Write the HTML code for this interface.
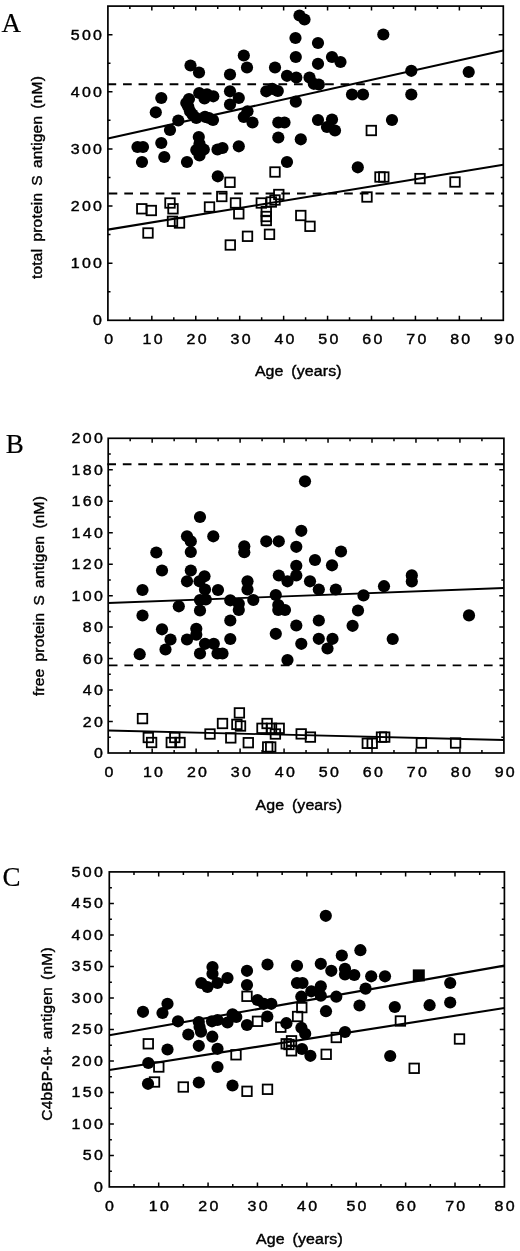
<!DOCTYPE html>
<html><head><meta charset="utf-8"><title>Figure</title>
<style>
html,body{margin:0;padding:0;background:#fff;}
svg{display:block;font-family:"Liberation Sans",sans-serif;fill:#000;filter:blur(0.35px);}
text{stroke:#000;stroke-width:0.4px;}
text.pl{font-family:"Liberation Serif",serif;font-size:27px;stroke-width:0.2px;}
</style></head>
<body>
<svg width="520" height="1251" viewBox="0 0 520 1251">
<rect width="520" height="1251" fill="#fff"/>
<rect x="107.9" y="6.1" width="395.40" height="314.20" fill="none" stroke="#000" stroke-width="1.7"/>
<path d="M129.87 320.3v-3M129.87 6.1v3M151.83 320.3v-4.5M151.83 6.1v4.5M173.80 320.3v-3M173.80 6.1v3M195.77 320.3v-4.5M195.77 6.1v4.5M217.73 320.3v-3M217.73 6.1v3M239.70 320.3v-4.5M239.70 6.1v4.5M261.67 320.3v-3M261.67 6.1v3M283.63 320.3v-4.5M283.63 6.1v4.5M305.60 320.3v-3M305.60 6.1v3M327.57 320.3v-4.5M327.57 6.1v4.5M349.53 320.3v-3M349.53 6.1v3M371.50 320.3v-4.5M371.50 6.1v4.5M393.47 320.3v-3M393.47 6.1v3M415.43 320.3v-4.5M415.43 6.1v4.5M437.40 320.3v-3M437.40 6.1v3M459.37 320.3v-4.5M459.37 6.1v4.5M481.33 320.3v-3M481.33 6.1v3M107.9 263.17h4.6M503.3 263.17h-4.6M107.9 206.05h4.6M503.3 206.05h-4.6M107.9 148.92h4.6M503.3 148.92h-4.6M107.9 91.79h4.6M503.3 91.79h-4.6M107.9 34.66h4.6M503.3 34.66h-4.6M107.9 291.74h2.6M503.3 291.74h-2.6M107.9 234.61h2.6M503.3 234.61h-2.6M107.9 177.48h2.6M503.3 177.48h-2.6M107.9 120.35h2.6M503.3 120.35h-2.6M107.9 63.23h2.6M503.3 63.23h-2.6" stroke="#000" stroke-width="1.5" fill="none"/>
<path d="M107.5 84.3H503.3" stroke="#000" stroke-width="1.9" stroke-dasharray="8.7 6.84" fill="none"/>
<path d="M108.6 193.5H503.3" stroke="#000" stroke-width="1.9" stroke-dasharray="8.7 7.0" fill="none"/>
<path d="M107.9 138.6L503.3 50.5M107.9 229.6L503.3 164.8" stroke="#000" stroke-width="2.1" fill="none"/>
<g fill="#000"><circle cx="190.5" cy="65.5" r="6.1"/><circle cx="199" cy="72.5" r="6.1"/><circle cx="230" cy="74.5" r="6.1"/><circle cx="161.3" cy="98" r="6.1"/><circle cx="230" cy="91.3" r="6.1"/><circle cx="230" cy="104.5" r="6.1"/><circle cx="199.2" cy="93" r="6.1"/><circle cx="189" cy="99" r="6.1"/><circle cx="186.3" cy="103" r="6.1"/><circle cx="204.5" cy="98.5" r="6.1"/><circle cx="213.3" cy="96.3" r="6.1"/><circle cx="155.8" cy="112.3" r="6.1"/><circle cx="178.3" cy="120.5" r="6.1"/><circle cx="170" cy="130" r="6.1"/><circle cx="161.3" cy="143" r="6.1"/><circle cx="137.5" cy="147" r="6.1"/><circle cx="143" cy="147" r="6.1"/><circle cx="142" cy="162" r="6.1"/><circle cx="164.3" cy="157" r="6.1"/><circle cx="187" cy="162" r="6.1"/><circle cx="190" cy="111.3" r="6.1"/><circle cx="196.3" cy="118" r="6.1"/><circle cx="207" cy="94.3" r="6.1"/><circle cx="188.3" cy="106.8" r="6.1"/><circle cx="192.5" cy="114.5" r="6.1"/><circle cx="209" cy="118" r="6.1"/><circle cx="272.3" cy="88.8" r="6.1"/><circle cx="205" cy="116.8" r="6.1"/><circle cx="213" cy="120" r="6.1"/><circle cx="198.8" cy="137" r="6.1"/><circle cx="199.5" cy="143.8" r="6.1"/><circle cx="196.3" cy="150" r="6.1"/><circle cx="203.8" cy="149.5" r="6.1"/><circle cx="199.5" cy="155.5" r="6.1"/><circle cx="217.5" cy="149.5" r="6.1"/><circle cx="222.5" cy="148" r="6.1"/><circle cx="217.8" cy="176.3" r="6.1"/><circle cx="243.8" cy="55.5" r="6.1"/><circle cx="247" cy="67.5" r="6.1"/><circle cx="238.8" cy="98" r="6.1"/><circle cx="275" cy="67.5" r="6.1"/><circle cx="266.3" cy="91.3" r="6.1"/><circle cx="277.8" cy="91" r="6.1"/><circle cx="287" cy="75.8" r="6.1"/><circle cx="296.3" cy="77.5" r="6.1"/><circle cx="295.8" cy="57" r="6.1"/><circle cx="295.5" cy="38" r="6.1"/><circle cx="299.5" cy="15.5" r="6.1"/><circle cx="304.5" cy="19.5" r="6.1"/><circle cx="318" cy="43" r="6.1"/><circle cx="318" cy="63.8" r="6.1"/><circle cx="309.5" cy="77.5" r="6.1"/><circle cx="313.8" cy="83.8" r="6.1"/><circle cx="318.8" cy="84.5" r="6.1"/><circle cx="332" cy="57" r="6.1"/><circle cx="340.5" cy="62" r="6.1"/><circle cx="295.8" cy="101.7" r="6.1"/><circle cx="352" cy="94.5" r="6.1"/><circle cx="247.5" cy="111.3" r="6.1"/><circle cx="243.8" cy="117" r="6.1"/><circle cx="252.5" cy="122.5" r="6.1"/><circle cx="278.3" cy="122.5" r="6.1"/><circle cx="284.5" cy="122.5" r="6.1"/><circle cx="278.3" cy="137.5" r="6.1"/><circle cx="300.8" cy="139.3" r="6.1"/><circle cx="238.8" cy="146.3" r="6.1"/><circle cx="287" cy="162" r="6.1"/><circle cx="318" cy="120" r="6.1"/><circle cx="332" cy="119.5" r="6.1"/><circle cx="327" cy="127" r="6.1"/><circle cx="335" cy="130.5" r="6.1"/><circle cx="357.8" cy="167.3" r="6.1"/><circle cx="383.3" cy="34.5" r="6.1"/><circle cx="411.3" cy="70.8" r="6.1"/><circle cx="411.3" cy="94.5" r="6.1"/><circle cx="363" cy="94.5" r="6.1"/><circle cx="468.7" cy="72" r="6.1"/><circle cx="392" cy="120" r="6.1"/></g>
<g fill="none" stroke="#000" stroke-width="1.8"><rect x="137.05" y="204.05" width="9.5" height="9.5"/><rect x="146.55" y="205.75" width="9.5" height="9.5"/><rect x="143.25" y="228.25" width="9.5" height="9.5"/><rect x="165.25" y="198.25" width="9.5" height="9.5"/><rect x="168.25" y="204.05" width="9.5" height="9.5"/><rect x="167.75" y="216.55" width="9.5" height="9.5"/><rect x="174.75" y="218.25" width="9.5" height="9.5"/><rect x="204.75" y="202.25" width="9.5" height="9.5"/><rect x="217.05" y="191.75" width="9.5" height="9.5"/><rect x="225.25" y="177.55" width="9.5" height="9.5"/><rect x="225.55" y="240.25" width="9.5" height="9.5"/><rect x="230.75" y="198.25" width="9.5" height="9.5"/><rect x="234.05" y="209.05" width="9.5" height="9.5"/><rect x="256.55" y="198.25" width="9.5" height="9.5"/><rect x="266.55" y="197.25" width="9.5" height="9.5"/><rect x="270.25" y="195.25" width="9.5" height="9.5"/><rect x="274.05" y="189.75" width="9.5" height="9.5"/><rect x="261.55" y="206.75" width="9.5" height="9.5"/><rect x="261.55" y="211.75" width="9.5" height="9.5"/><rect x="261.55" y="215.75" width="9.5" height="9.5"/><rect x="264.75" y="229.55" width="9.5" height="9.5"/><rect x="242.75" y="231.55" width="9.5" height="9.5"/><rect x="296.05" y="210.75" width="9.5" height="9.5"/><rect x="305.25" y="221.55" width="9.5" height="9.5"/><rect x="270.25" y="167.25" width="9.5" height="9.5"/><rect x="366.55" y="125.75" width="9.5" height="9.5"/><rect x="375.25" y="172.25" width="9.5" height="9.5"/><rect x="379.05" y="172.25" width="9.5" height="9.5"/><rect x="415.25" y="173.85" width="9.5" height="9.5"/><rect x="450.25" y="177.25" width="9.5" height="9.5"/><rect x="362.25" y="192.25" width="9.5" height="9.5"/></g>
<text transform="translate(104.30 325.3) scale(1.15 1)" text-anchor="end" font-size="13.9" letter-spacing="2.0" >0</text>
<text transform="translate(104.30 268.1727272727273) scale(1.15 1)" text-anchor="end" font-size="13.9" letter-spacing="2.0" >100</text>
<text transform="translate(104.30 211.04545454545456) scale(1.15 1)" text-anchor="end" font-size="13.9" letter-spacing="2.0" >200</text>
<text transform="translate(104.30 153.91818181818184) scale(1.15 1)" text-anchor="end" font-size="13.9" letter-spacing="2.0" >300</text>
<text transform="translate(104.30 96.79090909090911) scale(1.15 1)" text-anchor="end" font-size="13.9" letter-spacing="2.0" >400</text>
<text transform="translate(104.30 39.663636363636385) scale(1.15 1)" text-anchor="end" font-size="13.9" letter-spacing="2.0" >500</text>
<text transform="translate(109.85 344.1) scale(1.15 1)" text-anchor="middle" font-size="13.9" letter-spacing="2.0" >0</text>
<text transform="translate(153.78 344.1) scale(1.15 1)" text-anchor="middle" font-size="13.9" letter-spacing="2.0" >10</text>
<text transform="translate(197.72 344.1) scale(1.15 1)" text-anchor="middle" font-size="13.9" letter-spacing="2.0" >20</text>
<text transform="translate(241.65 344.1) scale(1.15 1)" text-anchor="middle" font-size="13.9" letter-spacing="2.0" >30</text>
<text transform="translate(285.58 344.1) scale(1.15 1)" text-anchor="middle" font-size="13.9" letter-spacing="2.0" >40</text>
<text transform="translate(329.52 344.1) scale(1.15 1)" text-anchor="middle" font-size="13.9" letter-spacing="2.0" >50</text>
<text transform="translate(373.45 344.1) scale(1.15 1)" text-anchor="middle" font-size="13.9" letter-spacing="2.0" >60</text>
<text transform="translate(417.38 344.1) scale(1.15 1)" text-anchor="middle" font-size="13.9" letter-spacing="2.0" >70</text>
<text transform="translate(461.32 344.1) scale(1.15 1)" text-anchor="middle" font-size="13.9" letter-spacing="2.0" >80</text>
<text transform="translate(505.25 344.1) scale(1.15 1)" text-anchor="middle" font-size="13.9" letter-spacing="2.0" >90</text>
<text transform="translate(298.25 376.2) scale(1.07 1)" text-anchor="middle" font-size="14.9" letter-spacing="0.1" word-spacing="3">Age (years)</text>
<text transform="translate(41.8 177.5) rotate(-90) scale(1.04 1)" text-anchor="middle" font-size="14.9" letter-spacing="0.2" word-spacing="2.5">total protein S antigen (nM)</text>
<text class="pl" x="1.4" y="31.9">A</text>
<rect x="108.2" y="438.3" width="395.70" height="314.70" fill="none" stroke="#000" stroke-width="1.7"/>
<path d="M130.18 753.0v-3M130.18 438.3v3M152.17 753.0v-4.5M152.17 438.3v4.5M174.15 753.0v-3M174.15 438.3v3M196.13 753.0v-4.5M196.13 438.3v4.5M218.12 753.0v-3M218.12 438.3v3M240.10 753.0v-4.5M240.10 438.3v4.5M262.08 753.0v-3M262.08 438.3v3M284.07 753.0v-4.5M284.07 438.3v4.5M306.05 753.0v-3M306.05 438.3v3M328.03 753.0v-4.5M328.03 438.3v4.5M350.02 753.0v-3M350.02 438.3v3M372.00 753.0v-4.5M372.00 438.3v4.5M393.98 753.0v-3M393.98 438.3v3M415.97 753.0v-4.5M415.97 438.3v4.5M437.95 753.0v-3M437.95 438.3v3M459.93 753.0v-4.5M459.93 438.3v4.5M481.92 753.0v-3M481.92 438.3v3M108.2 721.53h4.6M503.9 721.53h-4.6M108.2 690.06h4.6M503.9 690.06h-4.6M108.2 658.59h4.6M503.9 658.59h-4.6M108.2 627.12h4.6M503.9 627.12h-4.6M108.2 595.65h4.6M503.9 595.65h-4.6M108.2 564.18h4.6M503.9 564.18h-4.6M108.2 532.71h4.6M503.9 532.71h-4.6M108.2 501.24h4.6M503.9 501.24h-4.6M108.2 469.77h4.6M503.9 469.77h-4.6M108.2 737.26h2.6M503.9 737.26h-2.6M108.2 705.79h2.6M503.9 705.79h-2.6M108.2 674.33h2.6M503.9 674.33h-2.6M108.2 642.86h2.6M503.9 642.86h-2.6M108.2 611.38h2.6M503.9 611.38h-2.6M108.2 579.91h2.6M503.9 579.91h-2.6M108.2 548.45h2.6M503.9 548.45h-2.6M108.2 516.98h2.6M503.9 516.98h-2.6M108.2 485.50h2.6M503.9 485.50h-2.6M108.2 454.04h2.6M503.9 454.04h-2.6" stroke="#000" stroke-width="1.5" fill="none"/>
<path d="M107.3 464.2H503.9" stroke="#000" stroke-width="1.9" stroke-dasharray="8.7 6.8" fill="none"/>
<path d="M108.8 665.4H503.9" stroke="#000" stroke-width="1.9" stroke-dasharray="8.7 6.93" fill="none"/>
<path d="M108.2 603L503.9 588M108.2 730.5L503.9 740" stroke="#000" stroke-width="1.8" fill="none"/>
<g fill="#000"><circle cx="200" cy="517" r="6.1"/><circle cx="213.3" cy="536.3" r="6.1"/><circle cx="187" cy="536.3" r="6.1"/><circle cx="190.8" cy="541.3" r="6.1"/><circle cx="190.8" cy="552" r="6.1"/><circle cx="156.3" cy="552.5" r="6.1"/><circle cx="162" cy="570.5" r="6.1"/><circle cx="190.8" cy="570.5" r="6.1"/><circle cx="187" cy="581.3" r="6.1"/><circle cx="204.5" cy="576.3" r="6.1"/><circle cx="199.5" cy="581.3" r="6.1"/><circle cx="205" cy="589.5" r="6.1"/><circle cx="218" cy="590" r="6.1"/><circle cx="142.5" cy="590" r="6.1"/><circle cx="200" cy="600" r="6.1"/><circle cx="205.8" cy="599.5" r="6.1"/><circle cx="230.3" cy="600.3" r="6.1"/><circle cx="178.8" cy="606.3" r="6.1"/><circle cx="200" cy="610.5" r="6.1"/><circle cx="142.5" cy="615.5" r="6.1"/><circle cx="230.3" cy="620.5" r="6.1"/><circle cx="162" cy="629.3" r="6.1"/><circle cx="196.3" cy="628.8" r="6.1"/><circle cx="196.3" cy="634.7" r="6.1"/><circle cx="187" cy="639.5" r="6.1"/><circle cx="170.5" cy="639.5" r="6.1"/><circle cx="230.3" cy="639" r="6.1"/><circle cx="165.5" cy="649.5" r="6.1"/><circle cx="205" cy="643.8" r="6.1"/><circle cx="213.8" cy="643.8" r="6.1"/><circle cx="139.7" cy="654.2" r="6.1"/><circle cx="200" cy="653.5" r="6.1"/><circle cx="217.5" cy="653.5" r="6.1"/><circle cx="222.5" cy="653.5" r="6.1"/><circle cx="305" cy="481.3" r="6.1"/><circle cx="301.3" cy="530.8" r="6.1"/><circle cx="266.3" cy="541.3" r="6.1"/><circle cx="278.8" cy="541.3" r="6.1"/><circle cx="296.3" cy="546.8" r="6.1"/><circle cx="244.3" cy="546.3" r="6.1"/><circle cx="244.3" cy="552.2" r="6.1"/><circle cx="341" cy="551.5" r="6.1"/><circle cx="315" cy="560" r="6.1"/><circle cx="296.3" cy="565.8" r="6.1"/><circle cx="332" cy="565.3" r="6.1"/><circle cx="296.3" cy="575.5" r="6.1"/><circle cx="278.8" cy="575.5" r="6.1"/><circle cx="287.5" cy="581.3" r="6.1"/><circle cx="310" cy="581.3" r="6.1"/><circle cx="318.8" cy="589.5" r="6.1"/><circle cx="335.8" cy="589.5" r="6.1"/><circle cx="247.5" cy="581.3" r="6.1"/><circle cx="247.5" cy="589.5" r="6.1"/><circle cx="253.3" cy="600" r="6.1"/><circle cx="238.8" cy="603.8" r="6.1"/><circle cx="238.8" cy="610" r="6.1"/><circle cx="275.8" cy="595" r="6.1"/><circle cx="278.3" cy="605" r="6.1"/><circle cx="278.3" cy="610" r="6.1"/><circle cx="285" cy="610" r="6.1"/><circle cx="318.8" cy="620.5" r="6.1"/><circle cx="296.3" cy="625.5" r="6.1"/><circle cx="352.6" cy="625.8" r="6.1"/><circle cx="358" cy="610.5" r="6.1"/><circle cx="275.8" cy="633.8" r="6.1"/><circle cx="318.8" cy="638.8" r="6.1"/><circle cx="332.5" cy="638.8" r="6.1"/><circle cx="301.3" cy="643.8" r="6.1"/><circle cx="327.5" cy="648.5" r="6.1"/><circle cx="287.5" cy="660" r="6.1"/><circle cx="384" cy="586.2" r="6.1"/><circle cx="411.8" cy="575.4" r="6.1"/><circle cx="411.8" cy="581.5" r="6.1"/><circle cx="363.5" cy="595.4" r="6.1"/><circle cx="392.7" cy="639" r="6.1"/><circle cx="469" cy="615.4" r="6.1"/></g>
<g fill="none" stroke="#000" stroke-width="1.8"><rect x="137.75" y="713.85" width="9.5" height="9.5"/><rect x="143.55" y="732.75" width="9.5" height="9.5"/><rect x="146.85" y="737.75" width="9.5" height="9.5"/><rect x="166.55" y="737.75" width="9.5" height="9.5"/><rect x="175.25" y="737.75" width="9.5" height="9.5"/><rect x="170.05" y="732.75" width="9.5" height="9.5"/><rect x="205.25" y="729.25" width="9.5" height="9.5"/><rect x="217.75" y="718.75" width="9.5" height="9.5"/><rect x="234.65" y="708.15" width="9.5" height="9.5"/><rect x="232.15" y="719.65" width="9.5" height="9.5"/><rect x="235.75" y="721.25" width="9.5" height="9.5"/><rect x="226.05" y="733.15" width="9.5" height="9.5"/><rect x="243.55" y="737.95" width="9.5" height="9.5"/><rect x="257.25" y="723.55" width="9.5" height="9.5"/><rect x="262.35" y="718.75" width="9.5" height="9.5"/><rect x="266.75" y="723.55" width="9.5" height="9.5"/><rect x="274.45" y="723.55" width="9.5" height="9.5"/><rect x="270.65" y="729.25" width="9.5" height="9.5"/><rect x="262.95" y="742.25" width="9.5" height="9.5"/><rect x="265.95" y="742.25" width="9.5" height="9.5"/><rect x="296.45" y="729.15" width="9.5" height="9.5"/><rect x="305.65" y="732.35" width="9.5" height="9.5"/><rect x="362.55" y="738.55" width="9.5" height="9.5"/><rect x="367.45" y="738.55" width="9.5" height="9.5"/><rect x="376.75" y="732.35" width="9.5" height="9.5"/><rect x="379.95" y="732.35" width="9.5" height="9.5"/><rect x="416.65" y="738.25" width="9.5" height="9.5"/><rect x="450.85" y="738.25" width="9.5" height="9.5"/></g>
<text transform="translate(105.10 758.0) scale(1.15 1)" text-anchor="end" font-size="13.9" letter-spacing="2.0" >0</text>
<text transform="translate(105.10 726.53) scale(1.15 1)" text-anchor="end" font-size="13.9" letter-spacing="2.0" >20</text>
<text transform="translate(105.10 695.06) scale(1.15 1)" text-anchor="end" font-size="13.9" letter-spacing="2.0" >40</text>
<text transform="translate(105.10 663.59) scale(1.15 1)" text-anchor="end" font-size="13.9" letter-spacing="2.0" >60</text>
<text transform="translate(105.10 632.12) scale(1.15 1)" text-anchor="end" font-size="13.9" letter-spacing="2.0" >80</text>
<text transform="translate(105.10 600.65) scale(1.15 1)" text-anchor="end" font-size="13.9" letter-spacing="2.0" >100</text>
<text transform="translate(105.10 569.1800000000001) scale(1.15 1)" text-anchor="end" font-size="13.9" letter-spacing="2.0" >120</text>
<text transform="translate(105.10 537.71) scale(1.15 1)" text-anchor="end" font-size="13.9" letter-spacing="2.0" >140</text>
<text transform="translate(105.10 506.24) scale(1.15 1)" text-anchor="end" font-size="13.9" letter-spacing="2.0" >160</text>
<text transform="translate(105.10 474.77000000000004) scale(1.15 1)" text-anchor="end" font-size="13.9" letter-spacing="2.0" >180</text>
<text transform="translate(105.10 443.3) scale(1.15 1)" text-anchor="end" font-size="13.9" letter-spacing="2.0" >200</text>
<text transform="translate(110.15 776.9) scale(1.15 1)" text-anchor="middle" font-size="13.9" letter-spacing="2.0" >0</text>
<text transform="translate(154.12 776.9) scale(1.15 1)" text-anchor="middle" font-size="13.9" letter-spacing="2.0" >10</text>
<text transform="translate(198.08 776.9) scale(1.15 1)" text-anchor="middle" font-size="13.9" letter-spacing="2.0" >20</text>
<text transform="translate(242.05 776.9) scale(1.15 1)" text-anchor="middle" font-size="13.9" letter-spacing="2.0" >30</text>
<text transform="translate(286.02 776.9) scale(1.15 1)" text-anchor="middle" font-size="13.9" letter-spacing="2.0" >40</text>
<text transform="translate(329.98 776.9) scale(1.15 1)" text-anchor="middle" font-size="13.9" letter-spacing="2.0" >50</text>
<text transform="translate(373.95 776.9) scale(1.15 1)" text-anchor="middle" font-size="13.9" letter-spacing="2.0" >60</text>
<text transform="translate(417.92 776.9) scale(1.15 1)" text-anchor="middle" font-size="13.9" letter-spacing="2.0" >70</text>
<text transform="translate(461.88 776.9) scale(1.15 1)" text-anchor="middle" font-size="13.9" letter-spacing="2.0" >80</text>
<text transform="translate(505.85 776.9) scale(1.15 1)" text-anchor="middle" font-size="13.9" letter-spacing="2.0" >90</text>
<text transform="translate(298.85 810.3) scale(1.07 1)" text-anchor="middle" font-size="14.9" letter-spacing="0.1" word-spacing="3">Age (years)</text>
<text transform="translate(43.5 596) rotate(-90) scale(1.04 1)" text-anchor="middle" font-size="14.9" letter-spacing="0.2" word-spacing="2.5">free protein S antigen (nM)</text>
<text class="pl" x="5.8" y="452.5">B</text>
<rect x="109.3" y="871.9" width="395.10" height="315.00" fill="none" stroke="#000" stroke-width="1.7"/>
<path d="M133.99 1186.9v-3M133.99 871.9v3M158.69 1186.9v-4.5M158.69 871.9v4.5M183.38 1186.9v-3M183.38 871.9v3M208.07 1186.9v-4.5M208.07 871.9v4.5M232.77 1186.9v-3M232.77 871.9v3M257.46 1186.9v-4.5M257.46 871.9v4.5M282.16 1186.9v-3M282.16 871.9v3M306.85 1186.9v-4.5M306.85 871.9v4.5M331.54 1186.9v-3M331.54 871.9v3M356.24 1186.9v-4.5M356.24 871.9v4.5M380.93 1186.9v-3M380.93 871.9v3M405.62 1186.9v-4.5M405.62 871.9v4.5M430.32 1186.9v-3M430.32 871.9v3M455.01 1186.9v-4.5M455.01 871.9v4.5M479.71 1186.9v-3M479.71 871.9v3M109.3 1155.40h4.6M504.4 1155.40h-4.6M109.3 1123.90h4.6M504.4 1123.90h-4.6M109.3 1092.40h4.6M504.4 1092.40h-4.6M109.3 1060.90h4.6M504.4 1060.90h-4.6M109.3 1029.40h4.6M504.4 1029.40h-4.6M109.3 997.90h4.6M504.4 997.90h-4.6M109.3 966.40h4.6M504.4 966.40h-4.6M109.3 934.90h4.6M504.4 934.90h-4.6M109.3 903.40h4.6M504.4 903.40h-4.6M109.3 1171.15h2.6M504.4 1171.15h-2.6M109.3 1139.65h2.6M504.4 1139.65h-2.6M109.3 1108.15h2.6M504.4 1108.15h-2.6M109.3 1076.65h2.6M504.4 1076.65h-2.6M109.3 1045.15h2.6M504.4 1045.15h-2.6M109.3 1013.65h2.6M504.4 1013.65h-2.6M109.3 982.15h2.6M504.4 982.15h-2.6M109.3 950.65h2.6M504.4 950.65h-2.6M109.3 919.15h2.6M504.4 919.15h-2.6M109.3 887.65h2.6M504.4 887.65h-2.6" stroke="#000" stroke-width="1.5" fill="none"/>
<path d="M109.3 1035.2L504.4 965.6M109.3 1070L504.4 1008" stroke="#000" stroke-width="2.1" fill="none"/>
<g fill="#000"><circle cx="212.5" cy="967" r="6.1"/><circle cx="212.5" cy="973.8" r="6.1"/><circle cx="227.5" cy="978" r="6.1"/><circle cx="201.3" cy="983" r="6.1"/><circle cx="207.5" cy="987" r="6.1"/><circle cx="217.5" cy="983" r="6.1"/><circle cx="167.5" cy="1003.8" r="6.1"/><circle cx="162.5" cy="1013" r="6.1"/><circle cx="143" cy="1011.8" r="6.1"/><circle cx="178" cy="1021.3" r="6.1"/><circle cx="198.8" cy="1022" r="6.1"/><circle cx="199.6" cy="1027" r="6.1"/><circle cx="201" cy="1031.7" r="6.1"/><circle cx="188.3" cy="1034.5" r="6.1"/><circle cx="212" cy="1021.3" r="6.1"/><circle cx="217.5" cy="1020" r="6.1"/><circle cx="227.5" cy="1022.5" r="6.1"/><circle cx="232.5" cy="1014.3" r="6.1"/><circle cx="212.3" cy="1036.7" r="6.1"/><circle cx="198.8" cy="1045.8" r="6.1"/><circle cx="167.5" cy="1049.5" r="6.1"/><circle cx="217.5" cy="1048.8" r="6.1"/><circle cx="148.3" cy="1063" r="6.1"/><circle cx="217.5" cy="1067" r="6.1"/><circle cx="198.8" cy="1082.5" r="6.1"/><circle cx="148" cy="1083.8" r="6.1"/><circle cx="232.5" cy="1085.5" r="6.1"/><circle cx="325.8" cy="915.8" r="6.1"/><circle cx="341.8" cy="955.5" r="6.1"/><circle cx="320.8" cy="963.8" r="6.1"/><circle cx="297" cy="965.8" r="6.1"/><circle cx="267.5" cy="964.5" r="6.1"/><circle cx="247" cy="970.8" r="6.1"/><circle cx="331.3" cy="970.8" r="6.1"/><circle cx="345" cy="968.8" r="6.1"/><circle cx="345" cy="974.5" r="6.1"/><circle cx="354.3" cy="975" r="6.1"/><circle cx="247" cy="985" r="6.1"/><circle cx="297" cy="983" r="6.1"/><circle cx="302.5" cy="983" r="6.1"/><circle cx="320.8" cy="986.3" r="6.1"/><circle cx="311.3" cy="991.3" r="6.1"/><circle cx="320.8" cy="995.7" r="6.1"/><circle cx="301.3" cy="996.7" r="6.1"/><circle cx="336.3" cy="996.7" r="6.1"/><circle cx="257.5" cy="1000" r="6.1"/><circle cx="263.8" cy="1003.8" r="6.1"/><circle cx="271.3" cy="1003.8" r="6.1"/><circle cx="326" cy="1011.2" r="6.1"/><circle cx="236.3" cy="1017" r="6.1"/><circle cx="247" cy="1025" r="6.1"/><circle cx="267.3" cy="1016.5" r="6.1"/><circle cx="286.4" cy="1023.2" r="6.1"/><circle cx="301.4" cy="1027.8" r="6.1"/><circle cx="305.2" cy="1033.8" r="6.1"/><circle cx="345" cy="1032" r="6.1"/><circle cx="302" cy="1049" r="6.1"/><circle cx="310.4" cy="1055.8" r="6.1"/><circle cx="359.5" cy="1005.5" r="6.1"/><circle cx="360.4" cy="950.2" r="6.1"/><circle cx="371.2" cy="976.3" r="6.1"/><circle cx="385" cy="976.3" r="6.1"/><circle cx="365.6" cy="988.6" r="6.1"/><circle cx="394.8" cy="1007" r="6.1"/><circle cx="429.6" cy="1005.2" r="6.1"/><circle cx="450.2" cy="983" r="6.1"/><circle cx="450.2" cy="1002.5" r="6.1"/><circle cx="390.2" cy="1056" r="6.1"/></g>
<g fill="none" stroke="#000" stroke-width="1.8"><rect x="143.55" y="1039.05" width="9.5" height="9.5"/><rect x="154.05" y="1062.25" width="9.5" height="9.5"/><rect x="149.75" y="1077.25" width="9.5" height="9.5"/><rect x="178.55" y="1082.25" width="9.5" height="9.5"/><rect x="231.25" y="1050.05" width="9.5" height="9.5"/><rect x="242.25" y="991.55" width="9.5" height="9.5"/><rect x="297.05" y="1002.85" width="9.5" height="9.5"/><rect x="292.85" y="1011.75" width="9.5" height="9.5"/><rect x="252.75" y="1016.55" width="9.5" height="9.5"/><rect x="276.05" y="1022.45" width="9.5" height="9.5"/><rect x="331.55" y="1032.75" width="9.5" height="9.5"/><rect x="281.45" y="1039.05" width="9.5" height="9.5"/><rect x="286.75" y="1036.05" width="9.5" height="9.5"/><rect x="286.75" y="1046.05" width="9.5" height="9.5"/><rect x="284.25" y="1039.75" width="9.5" height="9.5"/><rect x="321.45" y="1049.55" width="9.5" height="9.5"/><rect x="242.25" y="1086.55" width="9.5" height="9.5"/><rect x="262.75" y="1084.55" width="9.5" height="9.5"/><rect x="395.65" y="1016.25" width="9.5" height="9.5"/><rect x="454.75" y="1034.25" width="9.5" height="9.5"/><rect x="409.45" y="1063.55" width="9.5" height="9.5"/></g>
<rect x="412.8" y="969.4" width="12" height="12" fill="#000"/>
<text transform="translate(105.10 1191.9) scale(1.15 1)" text-anchor="end" font-size="13.9" letter-spacing="2.0" >0</text>
<text transform="translate(105.10 1160.4) scale(1.15 1)" text-anchor="end" font-size="13.9" letter-spacing="2.0" >50</text>
<text transform="translate(105.10 1128.9) scale(1.15 1)" text-anchor="end" font-size="13.9" letter-spacing="2.0" >100</text>
<text transform="translate(105.10 1097.4) scale(1.15 1)" text-anchor="end" font-size="13.9" letter-spacing="2.0" >150</text>
<text transform="translate(105.10 1065.9) scale(1.15 1)" text-anchor="end" font-size="13.9" letter-spacing="2.0" >200</text>
<text transform="translate(105.10 1034.4) scale(1.15 1)" text-anchor="end" font-size="13.9" letter-spacing="2.0" >250</text>
<text transform="translate(105.10 1002.9000000000001) scale(1.15 1)" text-anchor="end" font-size="13.9" letter-spacing="2.0" >300</text>
<text transform="translate(105.10 971.4) scale(1.15 1)" text-anchor="end" font-size="13.9" letter-spacing="2.0" >350</text>
<text transform="translate(105.10 939.9) scale(1.15 1)" text-anchor="end" font-size="13.9" letter-spacing="2.0" >400</text>
<text transform="translate(105.10 908.4) scale(1.15 1)" text-anchor="end" font-size="13.9" letter-spacing="2.0" >450</text>
<text transform="translate(105.10 876.9) scale(1.15 1)" text-anchor="end" font-size="13.9" letter-spacing="2.0" >500</text>
<text transform="translate(110.65 1211.0) scale(1.15 1)" text-anchor="middle" font-size="13.9" letter-spacing="2.0" >0</text>
<text transform="translate(160.04 1211.0) scale(1.15 1)" text-anchor="middle" font-size="13.9" letter-spacing="2.0" >10</text>
<text transform="translate(209.42 1211.0) scale(1.15 1)" text-anchor="middle" font-size="13.9" letter-spacing="2.0" >20</text>
<text transform="translate(258.81 1211.0) scale(1.15 1)" text-anchor="middle" font-size="13.9" letter-spacing="2.0" >30</text>
<text transform="translate(308.20 1211.0) scale(1.15 1)" text-anchor="middle" font-size="13.9" letter-spacing="2.0" >40</text>
<text transform="translate(357.59 1211.0) scale(1.15 1)" text-anchor="middle" font-size="13.9" letter-spacing="2.0" >50</text>
<text transform="translate(406.97 1211.0) scale(1.15 1)" text-anchor="middle" font-size="13.9" letter-spacing="2.0" >60</text>
<text transform="translate(456.36 1211.0) scale(1.15 1)" text-anchor="middle" font-size="13.9" letter-spacing="2.0" >70</text>
<text transform="translate(505.75 1211.0) scale(1.15 1)" text-anchor="middle" font-size="13.9" letter-spacing="2.0" >80</text>
<text transform="translate(299.45 1244) scale(1.07 1)" text-anchor="middle" font-size="14.9" letter-spacing="0.1" word-spacing="3">Age (years)</text>
<text transform="translate(51.8 1034) rotate(-90) scale(1.04 1)" text-anchor="middle" font-size="14.9" letter-spacing="0.2" word-spacing="2.5">C4bBP-ß+ antigen (nM)</text>
<text class="pl" x="2.4" y="885.8">C</text>
</svg>
</body></html>
